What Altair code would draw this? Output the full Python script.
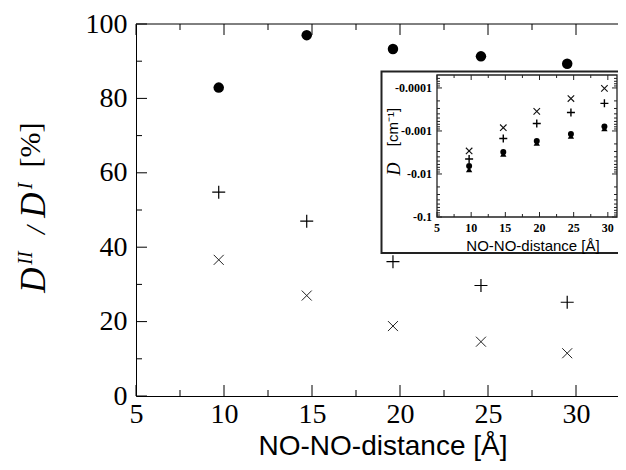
import altair as alt
import pandas as pd

# ---------------- data ----------------
dist = [9.7, 14.7, 19.6, 24.6, 29.5]                 # NO-NO distance [Å]

# main panel: D^II / D^I in %
ratio_circle = [82.9, 97.0, 93.3, 91.3, 89.3]
ratio_plus = [54.8, 47.0, 36.1, 29.7, 25.2]
ratio_cross = [36.6, 27.0, 18.8, 14.6, 11.5]

# inset: |D| in cm^-1 (values are negative, plotted on a log scale)
d_cross = [0.00292, 0.000841, 0.000349, 0.000176, 0.000102]
d_plus = [0.00449, 0.00150, 0.000671, 0.000372, 0.000228]
d_circle = [0.00653, 0.00309, 0.00171, 0.00118, 0.000789]
d_tri = [0.00789, 0.00344, 0.00191, 0.00131, 0.000877]

# tick values
main_x_major = [5, 10, 15, 20, 25, 30]
main_x_minor = [7.5, 12.5, 17.5, 22.5, 27.5]
main_y_major = [0, 20, 40, 60, 80, 100]
main_y_minor = [10, 30, 50, 70, 90]
inset_x_major = [5, 10, 15, 20, 25, 30]
inset_x_minor = [7.5, 12.5, 17.5, 22.5, 27.5]
inset_y_major = [0.0001, 0.001, 0.01, 0.1]
inset_y_minor = [0.00006, 0.00007, 0.00008, 0.00009,
                 0.0002, 0.0003, 0.0004, 0.0005, 0.0006, 0.0007, 0.0008, 0.0009,
                 0.002, 0.003, 0.004, 0.005, 0.006, 0.007, 0.008, 0.009,
                 0.02, 0.03, 0.04, 0.05, 0.06, 0.07, 0.08, 0.09]
inset_y_labels = ["-0.0001", "-0.001", "-0.01", "-0.1"]

# ---------------- layout ----------------
# page body is 610 px wide: plot area runs to the right edge of the svg
W, H = 482, 372
SERIF = "Liberation Serif"
SANS = "Liberation Sans"

mxs = alt.Scale(domain=[5, 32.386], nice=False, zero=False)
mys = alt.Scale(domain=[0, 100], nice=False, zero=False)
AX = alt.Axis(values=main_x_major, ticks=False, tickSize=0, domain=True,
              domainColor="black", domainWidth=1, grid=False, title=None,
              labelFont=SERIF, labelFontSize=28, labelColor="black",
              labelPadding=4, labelFlush=False, labelOverlap=False)
AY = alt.Axis(values=main_y_major, ticks=False, tickSize=0, domain=True,
              domainColor="black", domainWidth=1, grid=False, title=None,
              labelFont=SERIF, labelFontSize=28, labelColor="black",
              labelPadding=9, labelFlush=False, labelOverlap=False)

PLUS = "M-1,0L1,0M0,-1L0,1"
CROSS = "M-1,-1L1,1M-1,1L1,-1"


def series(xv, yv):
    return pd.DataFrame({"x": xv, "y": yv})


def m_points(yv, **mk):
    return alt.Chart(series(dist, yv)).mark_point(opacity=1, **mk).encode(
        x=alt.X("x:Q", scale=mxs, axis=AX),
        y=alt.Y("y:Q", scale=mys, axis=AY),
    )


def m_xticks(vals, y0, y1):
    return alt.Chart(pd.DataFrame({"x": vals})).mark_rule(
        color="black", strokeWidth=1).encode(
        x=alt.X("x:Q", scale=mxs, axis=AX), y=alt.value(y0), y2=alt.value(y1))


def m_yticks(vals, x0, x1):
    return alt.Chart(pd.DataFrame({"y": vals})).mark_rule(
        color="black", strokeWidth=1).encode(
        y=alt.Y("y:Q", scale=mys, axis=AY), x=alt.value(x0), x2=alt.value(x1))


def label(txt, x, y, size, font=SERIF, style="normal", weight="normal",
          angle=0, align="center", baseline="alphabetic"):
    return alt.Chart(pd.DataFrame({"t": [txt]})).mark_text(
        font=font, fontSize=size, fontStyle=style, fontWeight=weight,
        angle=angle, align=align, baseline=baseline, color="black").encode(
        text="t:N", x=alt.value(x), y=alt.value(y))


top_line = alt.Chart(pd.DataFrame({"a": [0]})).mark_rule(
    color="black", strokeWidth=1).encode(
    x=alt.value(0), x2=alt.value(W), y=alt.value(0))

main = alt.layer(
    m_xticks(main_x_major, H, H - 11),
    m_xticks(main_x_minor, H, H - 6),
    m_xticks(main_x_major, 0, 11),
    m_xticks(main_x_minor, 0, 6),
    m_yticks(main_y_major, 0, 11),
    m_yticks(main_y_minor, 0, 6),
    top_line,
    m_points(ratio_circle, shape="circle", filled=True, color="black", size=110),
    m_points(ratio_plus, shape=PLUS, filled=False, color="black", size=169,
             strokeWidth=1.2),
    m_points(ratio_cross, shape=CROSS, filled=False, color="#222", size=100,
             strokeWidth=1),
    # x title
    label("NO-NO-distance [Å]", 247, 431, 28, font=SANS),
    # y title: D^II / D^I  [%]
    label("D", -91, 256, 35, style="italic", angle=270),
    label("II", -104, 234, 20, style="italic", angle=270),
    label("/", -91, 206, 28, style="italic", angle=270),
    label("D", -91, 181, 35, style="italic", angle=270),
    label("I", -104, 162, 20, style="italic", angle=270),
    label("[%]", -96, 121, 30, angle=270),
)

# ---------------- inset ----------------
IR = 481  # right edge of the inset frame (kept inside the page)
ixs = alt.Scale(domain=[5, 32], range=[301, 485.5], nice=False, zero=False)
iys = alt.Scale(type="log", domain=[0.00005, 0.1], range=[51, 193], nice=False)


def i_points(yv, **mk):
    return alt.Chart(series(dist, yv)).mark_point(opacity=1, **mk).encode(
        x=alt.X("x:Q", scale=ixs, axis=None),
        y=alt.Y("y:Q", scale=iys, axis=None),
    )


def i_xticks(vals, y0, y1):
    return alt.Chart(pd.DataFrame({"x": vals})).mark_rule(
        color="#222", strokeWidth=1).encode(
        x=alt.X("x:Q", scale=ixs, axis=None), y=alt.value(y0), y2=alt.value(y1))


def i_yticks(vals, x0, x1):
    return alt.Chart(pd.DataFrame({"y": vals})).mark_rule(
        color="#222", strokeWidth=1).encode(
        y=alt.Y("y:Q", scale=iys, axis=None), x=alt.value(x0), x2=alt.value(x1))


box = alt.Chart(pd.DataFrame({"a": [0]})).mark_rect(
    fill="white", stroke="#222", strokeWidth=2, clip=True).encode(
    x=alt.value(245.5), x2=alt.value(500), y=alt.value(47.5), y2=alt.value(229))

frame = alt.Chart(pd.DataFrame({"a": [0]})).mark_rect(
    fill=None, stroke="#222", strokeWidth=1.3).encode(
    x=alt.value(301), x2=alt.value(IR), y=alt.value(51), y2=alt.value(193))

ix_labels = alt.Chart(pd.DataFrame({"x": inset_x_major,
                                    "t": [str(v) for v in inset_x_major]})).mark_text(
    font=SERIF, fontSize=12, fontWeight="bold", baseline="middle", align="center",
    color="black").encode(
    x=alt.X("x:Q", scale=ixs, axis=None), y=alt.value(204), text="t:N")

iy_labels = alt.Chart(pd.DataFrame({"y": inset_y_major, "t": inset_y_labels})).mark_text(
    font=SERIF, fontSize=12, fontWeight="bold", baseline="middle", align="right",
    color="black").encode(
    y=alt.Y("y:Q", scale=iys, axis=None), x=alt.value(296), text="t:N")

inset = alt.layer(
    box,
    frame,
    i_xticks(inset_x_major, 193, 188),
    i_xticks(inset_x_minor, 193, 190),
    i_xticks(inset_x_major, 51, 56),
    i_xticks(inset_x_minor, 51, 54),
    i_yticks(inset_y_major, 301, 306),
    i_yticks(inset_y_minor, 301, 304),
    i_yticks(inset_y_major, IR, IR - 5),
    i_yticks(inset_y_minor, IR, IR - 3),
    i_points(d_tri, shape="triangle-up", filled=True, color="black", size=40),
    i_points(d_circle, shape="circle", filled=True, color="black", size=36),
    i_points(d_plus, shape=PLUS, filled=False, color="black", size=64,
             strokeWidth=1.4),
    i_points(d_cross, shape=CROSS, filled=False, color="#111", size=42,
             strokeWidth=1.1),
    ix_labels,
    iy_labels,
    label("NO-NO-distance [Å]", 397, 227, 15, font=SANS),
    label("D", 264, 145, 18, style="italic", angle=270),
    label("[cm⁻¹]", 262, 103, 15, font=SANS, angle=270),
)

chart = alt.layer(main, inset).resolve_scale(
    x="independent", y="independent"
).properties(
    width=W, height=H,
    autosize=alt.AutoSizeParams(type="none"),
    padding={"left": 128, "top": 16, "right": 0, "bottom": 66},
    background="white",
).configure_view(stroke=None)

chart.save("out.html", embed_options={"renderer": "svg", "actions": False})
